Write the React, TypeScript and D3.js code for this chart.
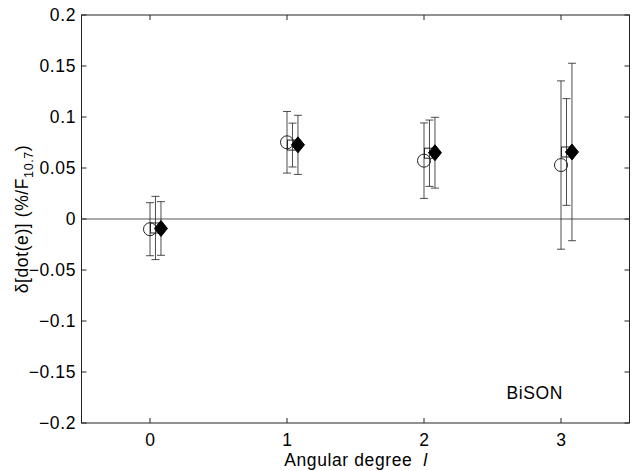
import React from "react";
import * as d3 from "d3";

const degrees = [0, 1, 2, 3];
const circleVals = [-0.010, 0.0752, 0.0572, 0.0529];
const circleErr = [0.026, 0.0302, 0.037, 0.0825];
const squareVals = [-0.0088, 0.0725, 0.0645, 0.0657];
const squareErr = [0.031, 0.0215, 0.0325, 0.0523];
const diamondVals = [-0.0093, 0.0727, 0.065, 0.0657];
const diamondErr = [0.0263, 0.029, 0.0347, 0.087];
const yTicks = [-0.2, -0.15, -0.1, -0.05, 0, 0.05, 0.1, 0.15, 0.2];
const xTicks = [0, 1, 2, 3];

const W = 635, H = 471;
const left = 81.5, right = 629.5, top = 15, bottom = 423;
const FONT = "'Liberation Sans', Arial, Helvetica, sans-serif";
const FS = 17.5;
const LS = 0.6;

export default function App() {
  const x = d3.scaleLinear().domain([-0.5, 3.5]).range([left, right]);
  const y = d3.scaleLinear().domain([-0.2, 0.2]).range([bottom, top]);
  const fmt = (v: number) => {
    const s = d3.format("")(+v.toFixed(2));
    return s.replace("-", "\u2212");
  };
  const series = [
    { vals: circleVals, err: circleErr, off: 0, kind: "circle" },
    { vals: squareVals, err: squareErr, off: 0.04, kind: "square" },
    { vals: diamondVals, err: diamondErr, off: 0.08, kind: "diamond" },
  ];
  const tl = 5;
  const cap = 4;
  const ink = "#222";
  return (
    <svg width={W} height={H} style={{ position: "absolute", left: 0, top: 0, background: "#fff" }}
      fontFamily={FONT}>
      <rect x={0} y={0} width={W} height={H} fill="#fff" />
      <line x1={left} x2={right} y1={y(0)} y2={y(0)} stroke="#555" strokeWidth={1} />
      {series.map((s, si) => (
        <g key={si}>
          {degrees.map((d, i) => {
            const cx = x(d + s.off);
            const cy = y(s.vals[i]);
            const yt = y(s.vals[i] + s.err[i]);
            const yb = y(s.vals[i] - s.err[i]);
            let marker;
            if (s.kind === "circle") marker = <circle cx={cx} cy={cy} r={6.5} fill="none" stroke={ink} strokeWidth={1} />;
            else if (s.kind === "square") marker = <rect x={cx - 5} y={cy - 5} width={10} height={10} fill="none" stroke={ink} strokeWidth={1} />;
            else marker = <path d={`M${cx},${cy - 8}L${cx + 6.5},${cy}L${cx},${cy + 8}L${cx - 6.5},${cy}Z`} fill="#000" stroke="#000" strokeWidth={1} />;
            return (
              <g key={i}>
                <line x1={cx} x2={cx} y1={yt} y2={yb} stroke={ink} strokeWidth={1} opacity={0.8} />
                <line x1={cx - cap} x2={cx + cap} y1={yt} y2={yt} stroke={ink} strokeWidth={1} opacity={0.8} />
                <line x1={cx - cap} x2={cx + cap} y1={yb} y2={yb} stroke={ink} strokeWidth={1} opacity={0.8} />
                {marker}
              </g>
            );
          })}
        </g>
      ))}
      <rect x={left} y={top} width={right - left} height={bottom - top} fill="none" stroke="#222" strokeWidth={1} />
      {yTicks.map((t) => (
        <g key={t}>
          <line x1={left} x2={left + tl} y1={y(t)} y2={y(t)} stroke="#222" />
          <line x1={right} x2={right - tl} y1={y(t)} y2={y(t)} stroke="#222" />
          <text x={76} y={y(t)} dy="0.36em" textAnchor="end" fontSize={FS} letterSpacing={LS} fill="#000">{fmt(t)}</text>
        </g>
      ))}
      {xTicks.map((t) => (
        <g key={t}>
          <line x1={x(t)} x2={x(t)} y1={bottom} y2={bottom - tl} stroke="#222" />
          <line x1={x(t)} x2={x(t)} y1={top} y2={top + tl} stroke="#222" />
          <text x={x(t) + 0.3} y={445.5} textAnchor="middle" fontSize={FS} letterSpacing={LS} fill="#000">{t}</text>
        </g>
      ))}
      <text x={356} y={465.5} textAnchor="middle" fontSize={FS} letterSpacing={LS} fill="#000">
        Angular degree{"\u00a0\u00a0"}<tspan fontStyle="italic">l</tspan>
      </text>
      <text transform={`translate(28,219) rotate(-90)`} textAnchor="middle" fontSize={FS} letterSpacing={LS} fill="#000">
        δ[dot(e)] (%/F<tspan dy={5} fontSize={12.5}>10.7</tspan><tspan dy={-5}>)</tspan>
      </text>
      <text x={506.5} y={399} fontSize={FS} letterSpacing={LS} fill="#000">BiSON</text>
    </svg>
  );
}
